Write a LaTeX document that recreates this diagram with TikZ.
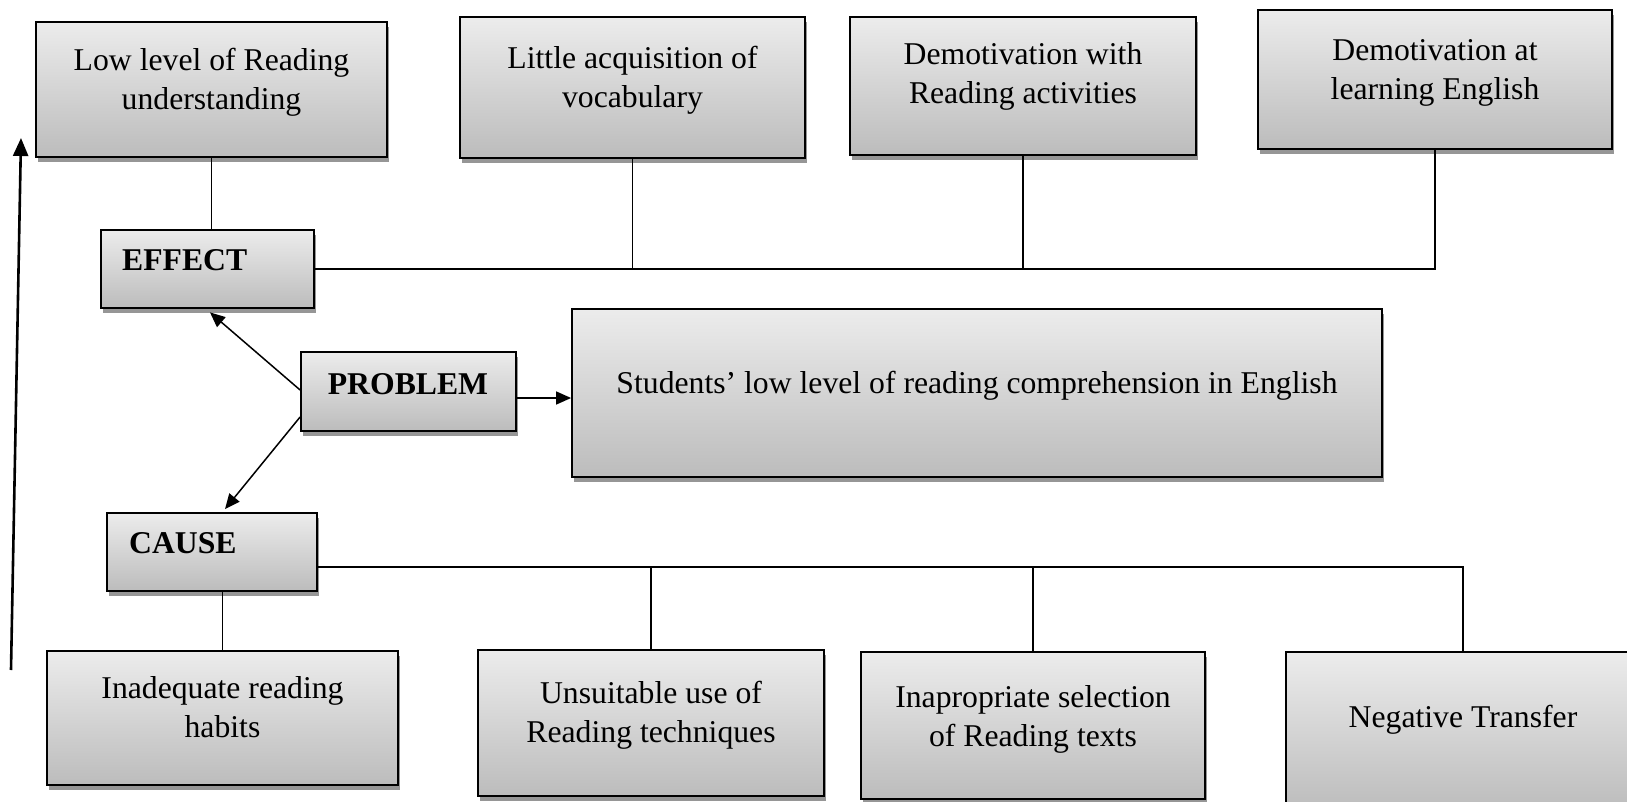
\documentclass[tikz,border=0pt]{standalone}
\usepackage{fontspec}
\setmainfont{Liberation Serif}
\usetikzlibrary{arrows.meta,shadows}
\definecolor{boxtop}{RGB}{236,236,236}
\definecolor{boxbot}{RGB}{188,188,188}
\definecolor{shadowgray}{RGB}{150,150,150}
\begin{document}
\begin{tikzpicture}[x=1pt,y=-1pt,
  cbox/.style={draw=black, line width=1.8pt, rectangle, inner sep=0pt,
    top color=boxtop, bottom color=boxbot,
    drop shadow={shadow xshift=2pt, shadow yshift=-5pt, fill=shadowgray, opacity=1}},
  boxtext/.style={font=\fontsize{31.7}{39}\selectfont, align=center, inner sep=0pt},
  headtext/.style={font=\fontsize{31.7}{39}\selectfont\bfseries, inner sep=0pt},
  link/.style={line width=1.3pt},
  arr/.style={line width=1.5pt, -{Triangle[length=15pt,width=13pt]}},
  bigarr/.style={line width=2.6pt, -{Triangle[length=18pt,width=15pt]}}]
\useasboundingbox (0,0) rectangle (1627,802);
\clip (0,0) rectangle (1627,802);

% effects
\node[cbox, minimum width=351pt, minimum height=135pt,
  label={[boxtext, yshift=7.5pt]center:Low level of Reading\\understanding}]
  (low) at (211.5,89.5) {};
\node[cbox, minimum width=345pt, minimum height=141pt,
  label={[boxtext, yshift=7.5pt]center:Little acquisition of\\vocabulary}]
  (little) at (632.5,87.5) {};
\node[cbox, minimum width=346pt, minimum height=138pt,
  label={[boxtext, yshift=9.5pt]center:Demotivation with\\Reading activities}]
  (demowith) at (1023,86) {};
\node[cbox, minimum width=354pt, minimum height=139pt,
  label={[boxtext, yshift=6.5pt]center:Demotivation at\\learning English}]
  (demoat) at (1435,79.5) {};

% headings
\node[cbox, minimum width=213pt, minimum height=78pt] (effect) at (207.5,269) {};
\node[headtext, anchor=base west] (effecttxt) at (122,271) {EFFECT};
\node[cbox, minimum width=215pt, minimum height=79pt] (problem) at (408.5,391.5) {};
\node[headtext, anchor=base] (problemtxt) at (408,394) {PROBLEM};
\node[cbox, minimum width=210pt, minimum height=78pt] (cause) at (212,552) {};
\node[headtext, anchor=base west] (causetxt) at (129,553) {CAUSE};

% central problem statement
\node[cbox, minimum width=810pt, minimum height=168pt] (big) at (977,393) {};
\node[boxtext, anchor=base] (bigtxt) at (977,393.5) {Students’ low level of reading comprehension in English};

% causes
\node[cbox, minimum width=351pt, minimum height=134pt,
  label={[boxtext, yshift=10.5pt]center:Inadequate reading\\habits}]
  (inadequate) at (222.5,718) {};
\node[cbox, minimum width=346pt, minimum height=146pt,
  label={[boxtext, yshift=7.5pt]center:Unsuitable use of\\Reading techniques}]
  (unsuitable) at (651,723) {};
\node[cbox, minimum width=344pt, minimum height=147pt,
  label={[boxtext, yshift=6.5pt]center:Inapropriate selection\\of Reading texts}]
  (inapropriate) at (1033,725.5) {};
\node[cbox, minimum width=354pt, minimum height=160pt] (negative) at (1463,732) {};
\node[boxtext, anchor=base] (negtxt) at (1463,727.5) {Negative Transfer};

% effect connectors
\draw[link] (low.south) -- (low.south |- effect.north);
\draw[link] (effect.east) -- (demoat.south |- effect.east) -- (demoat.south);
\draw[link] (little.south) -- (little.south |- effect.east);
\draw[link] (demowith.south) -- (demowith.south |- effect.east);

% cause connectors
\coordinate (cbar) at ([yshift=-15pt]cause.east);
\draw[link] (cbar) -- (negative.north |- cbar) -- (negative.north);
\draw[link] (unsuitable.north) -- (unsuitable.north |- cbar);
\draw[link] (inapropriate.north) -- (inapropriate.north |- cbar);
\draw[link] (inadequate.north) -- (inadequate.north |- cause.south);

% arrows from the problem
\draw[arr] (problem.east) ++(0,6.5) -- (big.west |- 0,398);
\draw[arr] ([yshift=1.5pt]problem.west) -- ([xshift=2.5pt,yshift=-3.5pt]effect.south);
\draw[arr] ([yshift=-25.5pt]problem.west) -- ([xshift=13pt,yshift=3pt]cause.north);

% rising arrow on the left
\coordinate (upfoot) at (11,670);
\coordinate (uphead) at (21,138);
\draw[bigarr] (upfoot) -- (uphead);
\end{tikzpicture}
\end{document}
